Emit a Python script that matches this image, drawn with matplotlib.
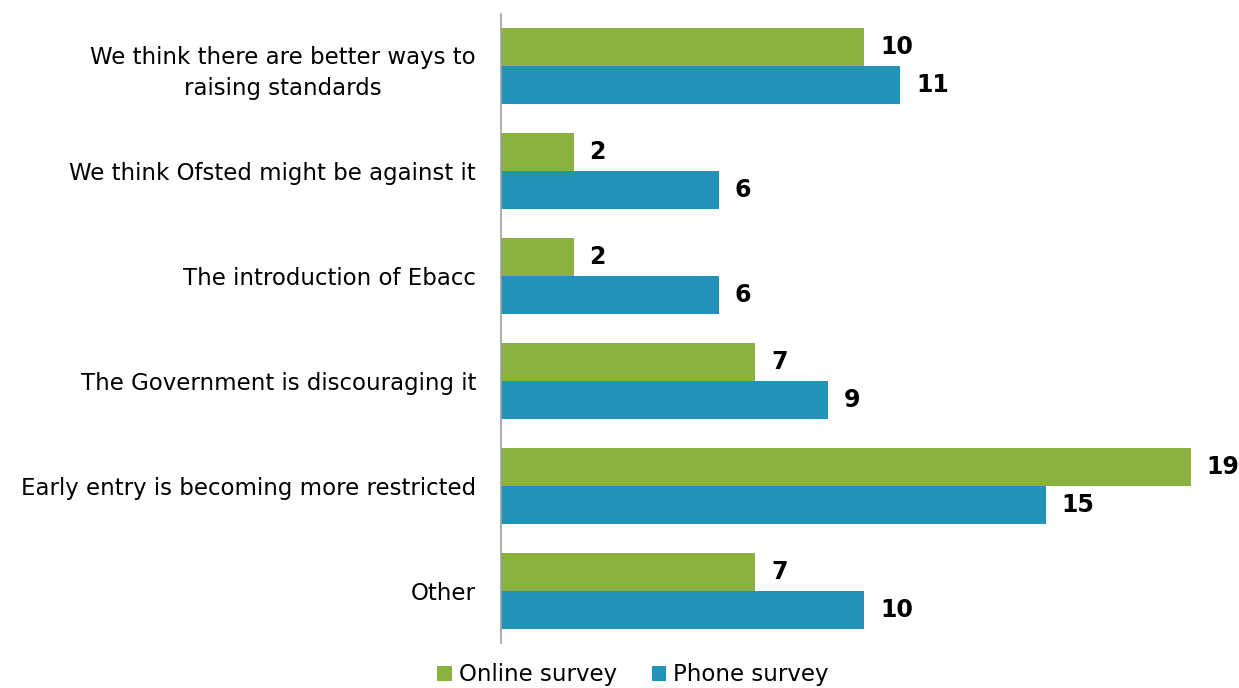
import matplotlib.pyplot as plt
import numpy as np

categories = [
    "We think there are better ways to\nraising standards",
    "We think Ofsted might be against it",
    "The introduction of Ebacc",
    "The Government is discouraging it",
    "Early entry is becoming more restricted",
    "Other",
]
online = [10, 2, 2, 7, 19, 7]
phone = [11, 6, 6, 9, 15, 10]
series_names = ["Online survey", "Phone survey"]

green = "#8BB140"
blue = "#2192B8"

W, H = 1239, 688
fig = plt.figure(figsize=(W / 100, H / 100), dpi=100)
ax = fig.add_axes([501 / W, 1 - 643 / H, 726 / W, 629 / H])

n = len(categories)
y = np.arange(n)
bh = 0.363
b1 = ax.barh(y - bh / 2, online, height=bh, color=green, label=series_names[0])
b2 = ax.barh(y + bh / 2, phone, height=bh, color=blue, label=series_names[1])

ax.set_xlim(0, 20)
ax.set_ylim(n - 0.5, -0.5)

for bars, vals in ((b1, online), (b2, phone)):
    for rect, v in zip(bars, vals):
        ax.annotate(str(v), (v, rect.get_y() + rect.get_height() / 2),
                    xytext=(11.5, 0), textcoords="offset points",
                    ha="left", va="center", fontsize=17, fontweight="bold",
                    color="black", clip_on=False)

ax.set_yticks(y)
ax.set_yticklabels(categories, fontsize=16.5, multialignment="center",
                   linespacing=1.45)
ax.tick_params(axis="y", length=0, pad=18)
ax.set_xticks([])
for s in ("top", "right", "bottom"):
    ax.spines[s].set_visible(False)
ax.spines["left"].set_color("#A0A0A0")
ax.spines["left"].set_linewidth(1.2)

fig.legend(handles=[b1, b2], labels=series_names, loc="center",
           bbox_to_anchor=(633 / W, 1 - 675 / H), ncol=2, frameon=False,
           fontsize=16.5, handlelength=0.65, handleheight=0.65, handletextpad=0.3,
           columnspacing=1.5, borderaxespad=0)

fig.savefig("out.png", dpi=100)
